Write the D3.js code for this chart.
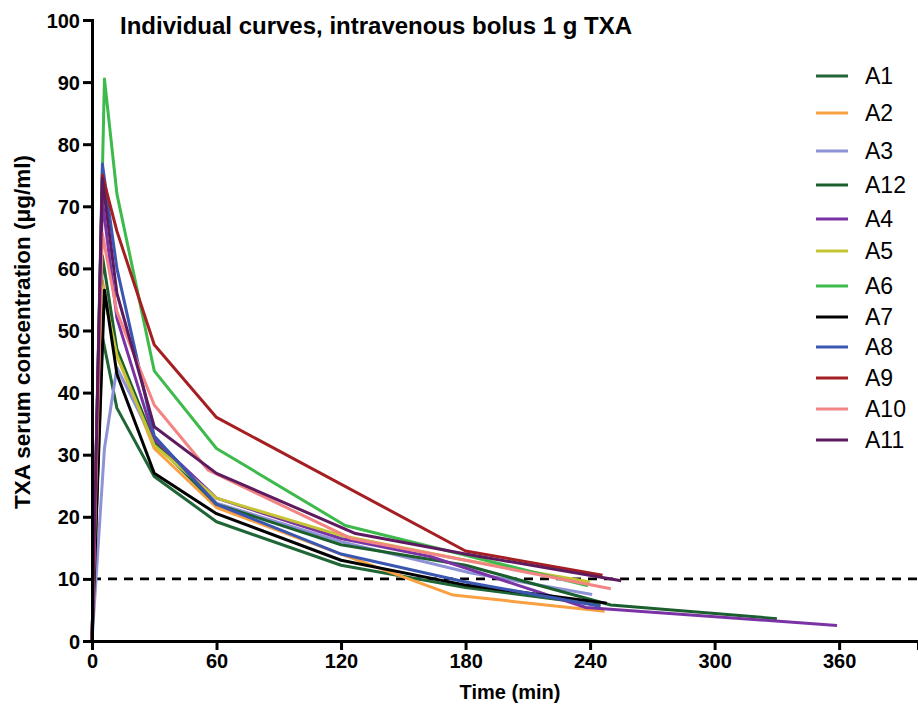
<!DOCTYPE html>
<html><head><meta charset="utf-8">
<script src="https://cdn.jsdelivr.net/npm/d3@7"></script>
<style>body{margin:0;background:#fff}svg{display:block}text{font-family:"Liberation Sans",Arial,sans-serif}</style>
</head><body><svg id="c" width="918" height="715"></svg>
<script>
const seriesNames = ["A1","A2","A3","A12","A4","A5","A6","A7","A8","A9","A10","A11"];
const seriesColors = ["#1f6535","#f9a040","#8e92d6","#1b5f2f","#7a33a4","#c4c432","#3dba4b","#000000","#3a56b0","#a51f22","#f28484","#5e1a5e"];
const A1  = [[0,0],[5,49],[12,37.5],[30,26.5],[60,19.2],[120,12.2],[180,8.6],[245,5.8]];
const A2  = [[0,0],[5,58],[12,46],[30,31],[60,21.5],[120,14],[174,7.4],[247,4.8]];
const A3  = [[0,0],[6,31],[12,44],[30,32],[60,22.2],[120,16],[182,11],[241,7.5]];
const A12 = [[0,0],[5,62],[12,47],[30,32],[60,22],[120,15.5],[180,12.2],[250,5.8],[330,3.6]];
const A4  = [[0,0],[5,71],[12,52],[30,32.5],[60,23],[120,16.5],[163,13.6],[238,5.4],[359,2.5]];
const A5  = [[0,0],[5,57],[12,46],[30,31.5],[60,23],[120,17],[180,13],[240,9.5]];
const A6  = [[0,0],[6,90.5],[12,72],[30,43.5],[60,31],[122,18.6],[180,13.8],[239,8.9]];
const A7  = [[0,0],[6,56.5],[12,43],[30,27],[60,20.5],[120,13],[180,9],[248,6.1]];
const A8  = [[0,0],[5,76.8],[12,60],[30,33],[60,22],[120,14],[180,9.5],[245,5.6]];
const A9  = [[0,0],[5,75],[12,66],[30,47.7],[60,36],[180,14.5],[246,10.6]];
const A10 = [[0,0],[5,65.6],[12,53],[30,38],[56,27.5],[125,16.5],[180,13],[250,8.4]];
const A11 = [[0,0],[5,74.5],[12,56],[30,34.5],[60,27],[127,17.3],[180,14],[255,9.7]];
const seriesData = [A1,A2,A3,A12,A4,A5,A6,A7,A8,A9,A10,A11];
const xTicks = [0,60,120,180,240,300,360];
const yTicks = [0,10,20,30,40,50,60,70,80,90,100];
const threshold = 10;
const title = "Individual curves, intravenous bolus 1 g TXA";

const svg = d3.select("#c");
const x = d3.scaleLinear().domain([0,398]).range([92,918]);
const y = d3.scaleLinear().domain([0,100]).range([641,20]);

svg.append("line").attr("x1",x(0)).attr("x2",x(398)).attr("y1",y(threshold)).attr("y2",y(threshold))
  .attr("stroke","#000").attr("stroke-width",2.6).attr("stroke-dasharray","9,7");

const line = d3.line().x(d=>x(d[0])).y(d=>y(d[1]));
seriesData.forEach((s,i)=>{
  svg.append("path").attr("d",line(s)).attr("fill","none").attr("stroke",seriesColors[i])
    .attr("stroke-width",3).attr("stroke-linejoin","round");
});

const xAxis = svg.append("g").attr("transform",`translate(0,${y(0)})`)
  .call(d3.axisBottom(x).tickValues(xTicks).tickSize(9).tickPadding(4));
const yAxis = svg.append("g").attr("transform",`translate(${x(0)},0)`)
  .call(d3.axisLeft(y).tickValues(yTicks).tickSize(9).tickPadding(3));
[xAxis,yAxis].forEach(g=>{
  g.select(".domain").attr("stroke","#000").attr("stroke-width",3);
  g.selectAll(".tick line").attr("stroke","#000").attr("stroke-width",3);
  g.selectAll(".tick text").attr("fill","#000").attr("font-size",20).attr("font-weight","bold")
    .style("font-family","'Liberation Sans',Arial,sans-serif");
});
yAxis.selectAll(".tick text").attr("dy","0.35em");

svg.append("text").attr("x",510).attr("y",699).attr("text-anchor","middle")
  .attr("font-size",20).attr("font-weight","bold").text("Time (min)");
svg.append("text").attr("transform","translate(30,332) rotate(-90)").attr("text-anchor","middle")
  .attr("font-size",22.5).attr("font-weight","bold").text("TXA serum concentration (μg/ml)");
svg.append("text").attr("x",120).attr("y",34).attr("font-size",24).attr("font-weight","bold").text(title);

const legendY = [76,113,151,185,219,251,286,317,347,378,409,440];
const leg = svg.append("g");
seriesNames.forEach((n,i)=>{
  leg.append("line").attr("x1",816).attr("x2",848).attr("y1",legendY[i]).attr("y2",legendY[i])
    .attr("stroke",seriesColors[i]).attr("stroke-width",3);
  leg.append("text").attr("x",865).attr("y",legendY[i]).attr("dy","0.36em").attr("font-size",23).text(n);
});
</script></body></html>
